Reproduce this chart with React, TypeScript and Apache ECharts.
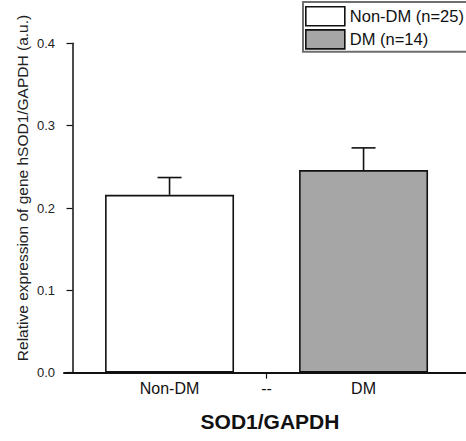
import React, { useEffect, useRef } from "react";
import * as echarts from "echarts";

// ---- data ----
const groupNames = ["Non-DM (n=25)", "DM (n=14)"];
const tickLabels = ["Non-DM", "--", "DM"];
const groupPositions = [1, 3]; // positions on the numeric x axis (Non-DM, DM)
const tickPositions = [1, 2, 3];
const means = [0.216, 0.246];
const errors = [0.021, 0.027];
const yTicks = [0, 0.1, 0.2, 0.3, 0.4];

const FONT = "'Liberation Sans', Arial, Helvetica, sans-serif";
const fills = ["#ffffff", "#a6a6a6"];

export default function App() {
  const ref = useRef<HTMLDivElement>(null);

  useEffect(() => {
    if (!ref.current) return;
    const chart = echarts.init(ref.current, undefined, { renderer: "svg" });

    const barSeries = groupNames.map((name, i) => ({
      name,
      type: "bar",
      barWidth: 129,
      barGap: "-100%",
      data: [[groupPositions[i], means[i]]],
      itemStyle: { color: fills[i], borderColor: "#111", borderWidth: 1.6 },
      z: 2,
    }));

    const errData = means.map((m, i) => [groupPositions[i], m, m + errors[i]]);

    const option = {
      animation: false,
      textStyle: { fontFamily: FONT },
      grid: { left: 64, right: 0, top: 43.3, bottom: 68.3, containLabel: false },
      legend: {
        data: groupNames,
        orient: "vertical",
        left: 303,
        top: 2,
        padding: [4, 30, 2, 2],
        itemWidth: 39,
        itemHeight: 19,
        itemGap: 2.5,
        icon: "rect",
        borderColor: "#6e6e6e",
        borderWidth: 2,
        backgroundColor: "#ffffff",
        itemStyle: { borderColor: "#111", borderWidth: 1.6 },
        textStyle: { fontSize: 16.5, color: "#111", fontFamily: FONT },
        selectedMode: false,
      },
      xAxis: {
        type: "value",
        min: -0.088,
        max: 4.056,
        splitLine: { show: false },
        axisLine: { show: true, onZero: false, lineStyle: { color: "#111", width: 2 } },
        axisTick: {
          show: true,
          length: 6,
          customValues: [tickPositions[1]],
          lineStyle: { color: "#111", width: 1.2 },
        },
        axisLabel: {
          customValues: tickPositions,
          formatter: (v: number) => {
            const idx = tickPositions.indexOf(Math.round(v));
            return idx >= 0 ? tickLabels[idx] : "";
          },
          fontSize: 16,
          color: "#111",
          margin: 8,
          fontFamily: FONT,
        },
      },
      yAxis: {
        type: "value",
        min: yTicks[0],
        max: yTicks[yTicks.length - 1],
        interval: 0.1,
        splitLine: { show: false },
        axisLine: { show: true, lineStyle: { color: "#111", width: 1.5 } },
        axisTick: { show: true, length: 6, lineStyle: { color: "#111", width: 1.2 } },
        axisLabel: {
          formatter: (v: number) => v.toFixed(1),
          fontSize: 13,
          color: "#222",
          margin: 9,
          fontFamily: FONT,
        },
      },
      series: [
        ...barSeries,
        {
          type: "custom",
          name: "error",
          z: 5,
          encode: { x: 0, y: [1, 2] },
          data: errData,
          renderItem: (params: any, api: any) => {
            const x = api.value(0);
            const base = api.coord([x, api.value(1)]);
            const top = api.coord([x, api.value(2)]);
            const half = 12;
            const style = { stroke: "#111", lineWidth: 1.6 };
            return {
              type: "group",
              children: [
                { type: "line", shape: { x1: base[0], y1: base[1], x2: top[0], y2: top[1] }, style },
                { type: "line", shape: { x1: top[0] - half, y1: top[1], x2: top[0] + half, y2: top[1] }, style },
              ],
            };
          },
        },
      ],
      graphic: [
        {
          type: "text",
          x: 22,
          y: 188,
          rotation: Math.PI / 2,
          style: {
            text: "Relative expression of gene hSOD1/GAPDH (a.u.)",
            fontSize: 15.5,
            fill: "#222",
            fontFamily: FONT,
            align: "center",
            verticalAlign: "middle",
          },
        },
        {
          type: "text",
          x: 270,
          y: 421,
          style: {
            text: "SOD1/GAPDH",
            fontSize: 21,
            fontWeight: "bold",
            fill: "#111",
            fontFamily: FONT,
            align: "center",
            verticalAlign: "middle",
          },
        },
      ],
    };

    chart.setOption(option as any);
    return () => chart.dispose();
  }, []);

  return (
    <div
      ref={ref}
      style={{ position: "fixed", left: 0, top: 0, width: 466, height: 441, background: "#fff" }}
    />
  );
}
